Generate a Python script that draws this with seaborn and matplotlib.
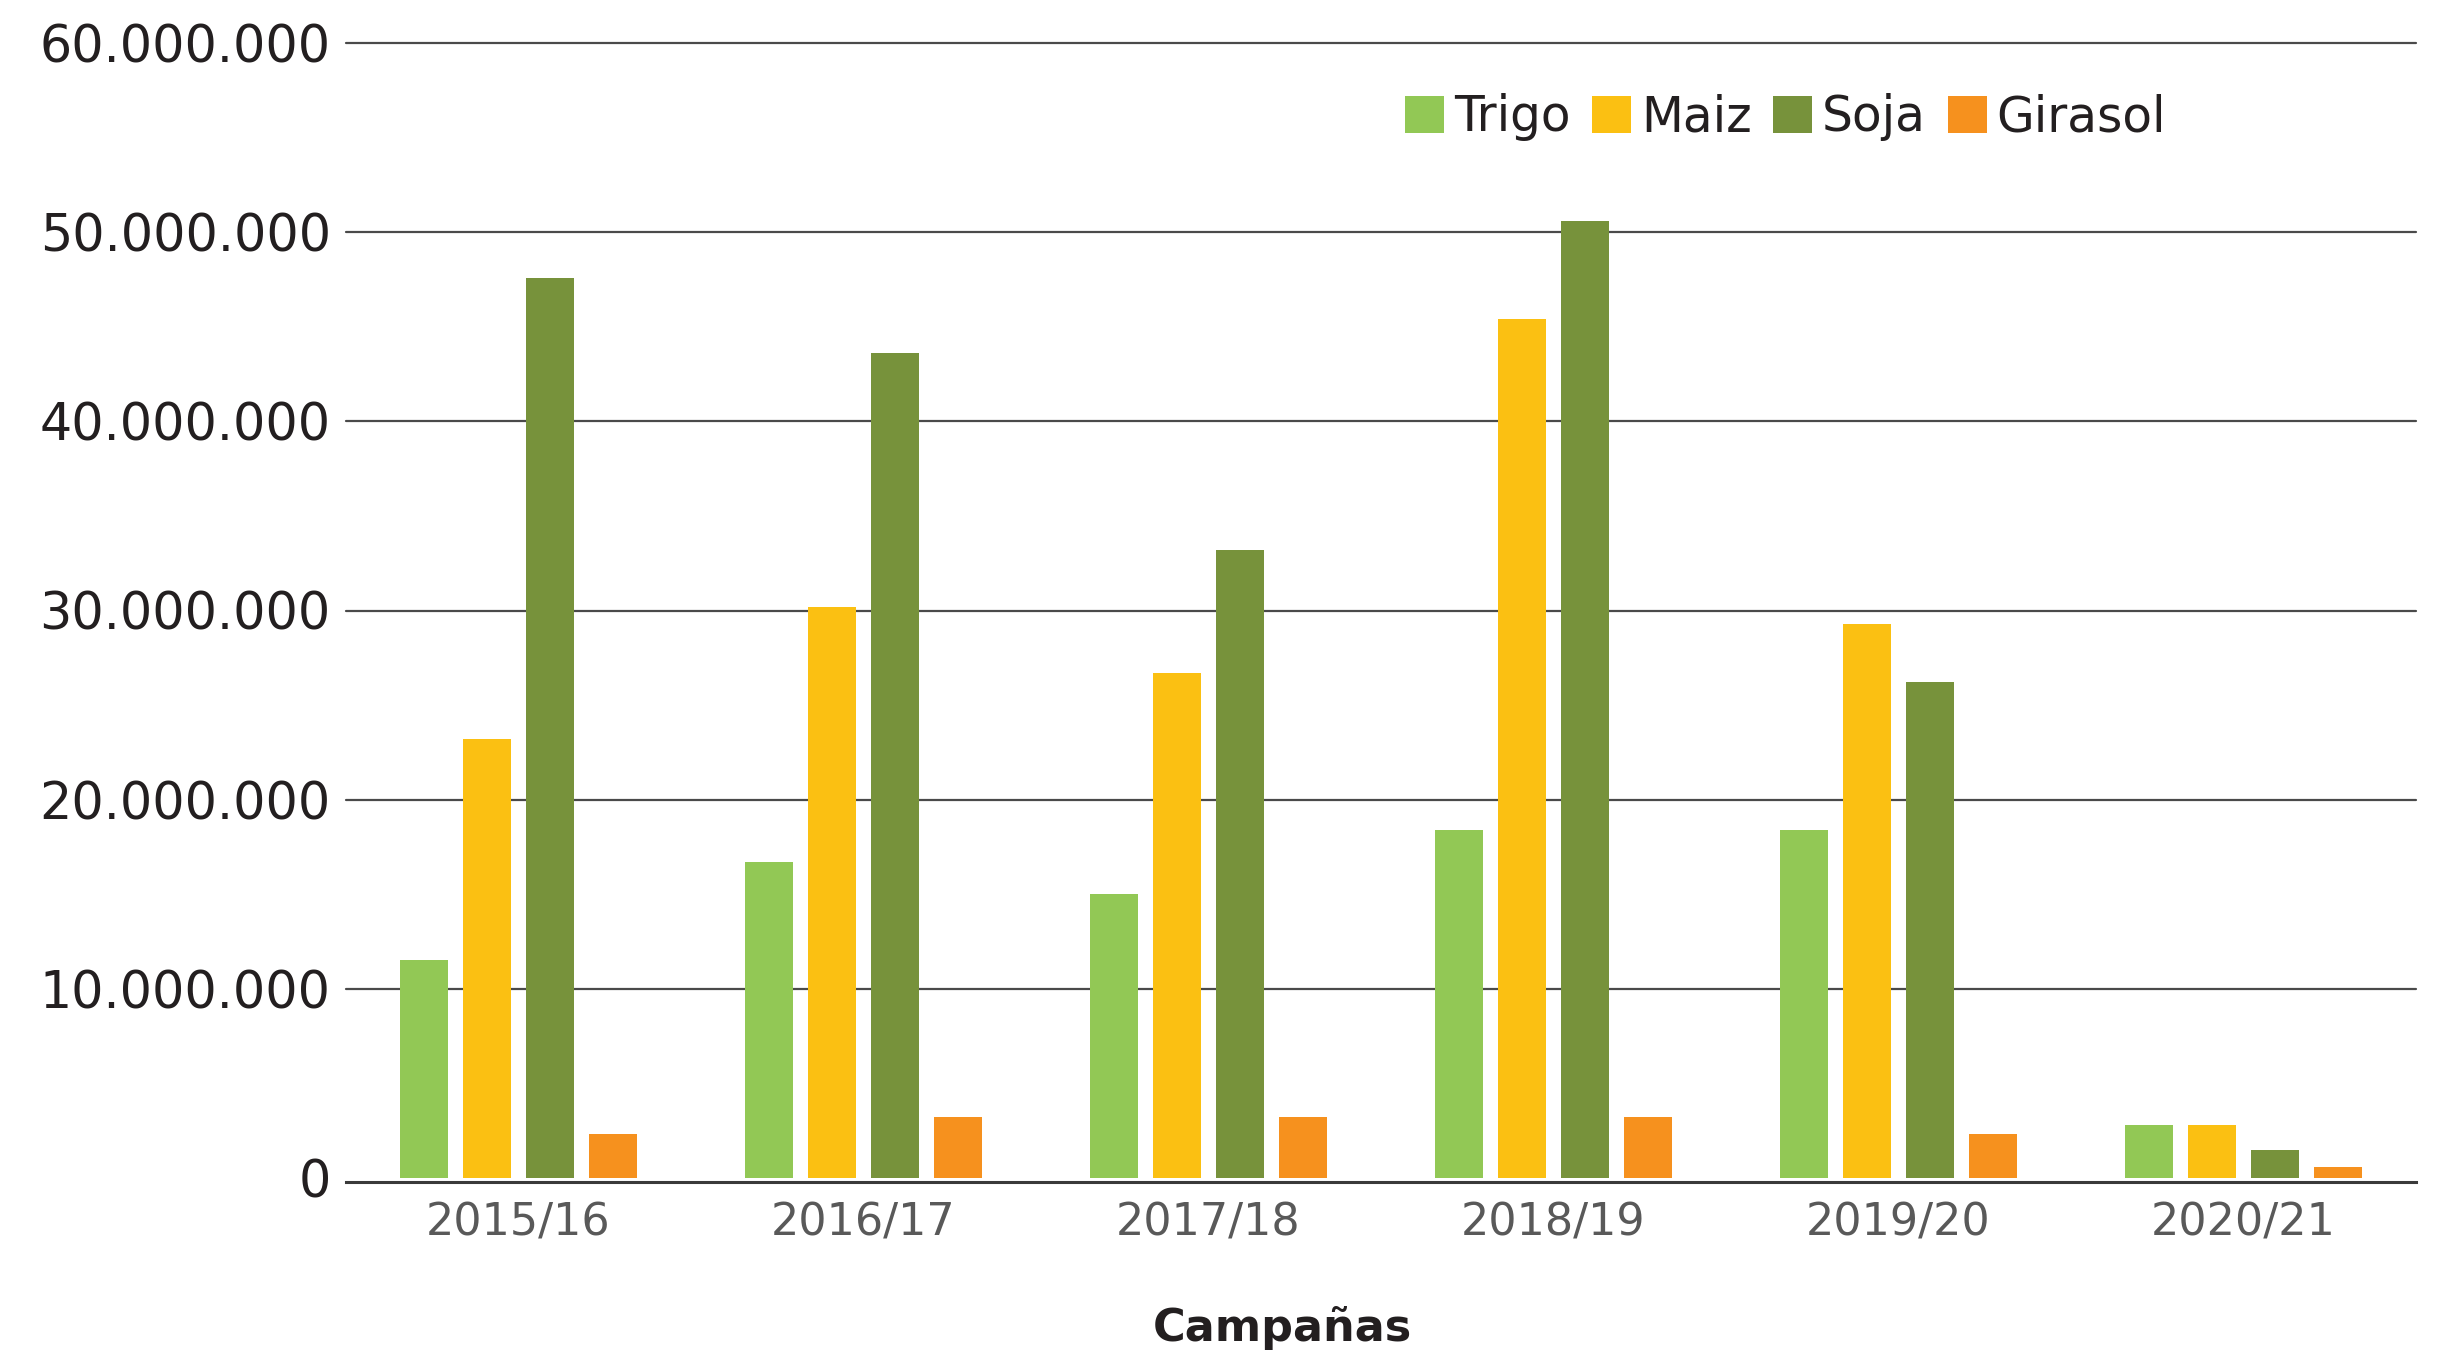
import matplotlib
matplotlib.use("Agg")
import matplotlib.pyplot as plt
from matplotlib.ticker import FuncFormatter, MultipleLocator
import seaborn as sns
import pandas as pd

campanas = ["2015/16", "2016/17", "2017/18", "2018/19", "2019/20", "2020/21"]
cultivos = ["Trigo", "Maiz", "Soja", "Girasol"]
trigo = [11_500_000, 16_700_000, 15_000_000, 18_400_000, 18_400_000, 2_800_000]
maiz = [23_200_000, 30_200_000, 26_700_000, 45_400_000, 29_300_000, 2_800_000]
soja = [47_600_000, 43_600_000, 33_200_000, 50_600_000, 26_200_000, 1_500_000]
girasol = [2_350_000, 3_200_000, 3_200_000, 3_200_000, 2_350_000, 600_000]
colores = ["#92C855", "#FBC012", "#77923B", "#F6911E"]
y_ticks = [0, 10_000_000, 20_000_000, 30_000_000, 40_000_000, 50_000_000, 60_000_000]

series = {"Trigo": trigo, "Maiz": maiz, "Soja": soja, "Girasol": girasol}
rows = []
for cultivo in cultivos:
    for camp, val in zip(campanas, series[cultivo]):
        rows.append({"Campaña": camp, "Cultivo": cultivo, "Toneladas": val})
df = pd.DataFrame(rows)

sns.set_theme(style="white")
plt.rcParams["font.family"] = ["DejaVu Sans"]

W, H = 2446, 1353
fig = plt.figure(figsize=(W / 100, H / 100), dpi=100)
left, right = 346, 2416
top, bottom = 43, 1178
ax = fig.add_axes([left / W, 1 - bottom / H, (right - left) / W, (bottom - top) / H])

sns.barplot(data=df, x="Campaña", y="Toneladas", hue="Cultivo",
            order=campanas, hue_order=cultivos, palette=colores,
            width=0.73, gap=0.24, ax=ax, linewidth=0, saturation=1,
            legend=True, zorder=3)

ax.set_xlim(-0.5, len(campanas) - 0.5)
ax.set_ylim(y_ticks[0], y_ticks[-1])
ax.set_yticks(y_ticks)
ax.yaxis.set_major_formatter(FuncFormatter(lambda v, p: f"{int(round(v)):,}".replace(",", ".")))

ax.grid(False)
for t in y_ticks[1:]:
    ax.axhline(t, color="#4a4a4a", linewidth=1.6, zorder=1, clip_on=False)

for s in ["left", "right", "top"]:
    ax.spines[s].set_visible(False)
ax.spines["bottom"].set_position(("outward", 3))
ax.spines["bottom"].set_color("#3a3a3a")
ax.spines["bottom"].set_linewidth(2.2)

ax.tick_params(axis="y", length=0, pad=11, labelsize=36.5, labelcolor="#231F20")
ax.tick_params(axis="x", length=0, pad=14, labelsize=32, labelcolor="#595959")
ax.set_xlabel("")
ax.set_ylabel("")

handles, labels = ax.get_legend_handles_labels()
if ax.get_legend() is not None:
    ax.get_legend().remove()
fig.legend(handles, labels, loc="center", bbox_to_anchor=(0.730, 0.9135),
           ncol=4, frameon=False, fontsize=35, handlelength=0.8, handleheight=0.8,
           handletextpad=0.2, columnspacing=0.45, labelcolor="#231F20")

fig.text(1282 / W, 1 - 1328 / H, "Campañas", ha="center", va="center",
         fontsize=32, fontweight="bold", color="#231F20")

fig.savefig("out.png", dpi=100)
